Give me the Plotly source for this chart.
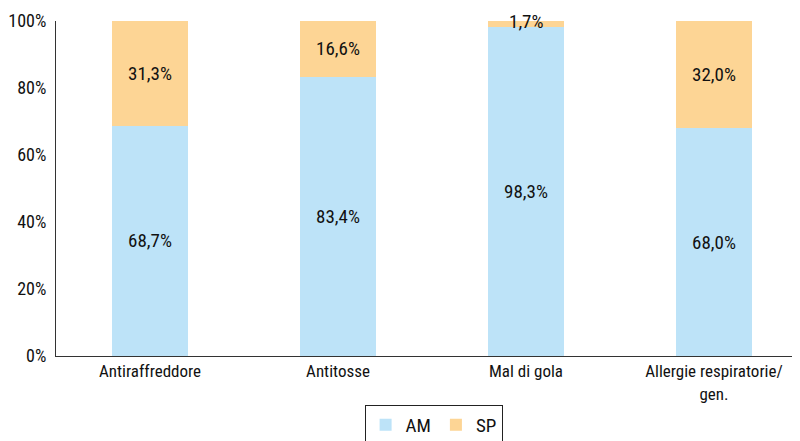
import plotly.graph_objects as go

categories = ["Antiraffreddore", "Antitosse", "Mal di gola", "Allergie respiratorie/<br>gen."]
am_values = [68.7, 83.4, 98.3, 68.0]
sp_values = [31.3, 16.6, 1.7, 32.0]
y_ticks = [0, 20, 40, 60, 80, 100]
y_tick_labels = [f"{v}%" for v in y_ticks]

FONT = "Liberation Sans Narrow, Arial Narrow, Roboto Condensed, sans-serif"

sp_pos = ["inside" if v >= 5 else "none" for v in sp_values]

fig = go.Figure()
fig.add_trace(go.Bar(
    x=categories, y=am_values, name="AM",
    marker=dict(color="#BDE3F8", line=dict(width=0)),
    texttemplate="%{y:.1f}%", textposition="inside", insidetextanchor="middle",
    textfont=dict(size=19, color="#111111", family=FONT), width=0.404,
))
fig.add_trace(go.Bar(
    x=categories, y=sp_values, name="SP",
    marker=dict(color="#FDD595", line=dict(width=0)),
    texttemplate=["%{y:.1f}%" if p == "inside" else "" for p in sp_pos],
    textposition="inside", insidetextanchor="middle",
    textfont=dict(size=19, color="#111111", family=FONT), width=0.404,
))
for c, a, s in zip(categories, am_values, sp_values):
    if s < 5:
        fig.add_annotation(x=c, y=a + s, text=f"{s:.1f}%".replace(".", ","),
                           showarrow=False, yanchor="middle",
                           font=dict(size=19, color="#111111", family=FONT))

fig.update_layout(
    barmode="stack",
    separators=",.",
    width=800, height=441,
    margin=dict(l=48, r=0, t=13, b=93, autoexpand=False),
    plot_bgcolor="white", paper_bgcolor="white",
    font=dict(family=FONT, size=17, color="#111111"),
    showlegend=True,
    legend=dict(orientation="h", x=0.532, xanchor="center", xref="container",
                y=0.1, yanchor="top", yref="container",
                bordercolor="#222222", borderwidth=1, font=dict(size=19),
                itemwidth=30, traceorder="normal"),
    xaxis=dict(showline=True, linecolor="#333333", linewidth=1, showgrid=False,
               ticks="", tickfont=dict(size=17), automargin=False),
    yaxis=dict(range=[0, 100], tickvals=y_ticks, ticktext=y_tick_labels, showline=True,
               linecolor="#333333", linewidth=1, showgrid=False, zeroline=False,
               ticks="", ticklabelstandoff=5, tickfont=dict(size=18), automargin=False),
)
fig.write_html("out.html")
